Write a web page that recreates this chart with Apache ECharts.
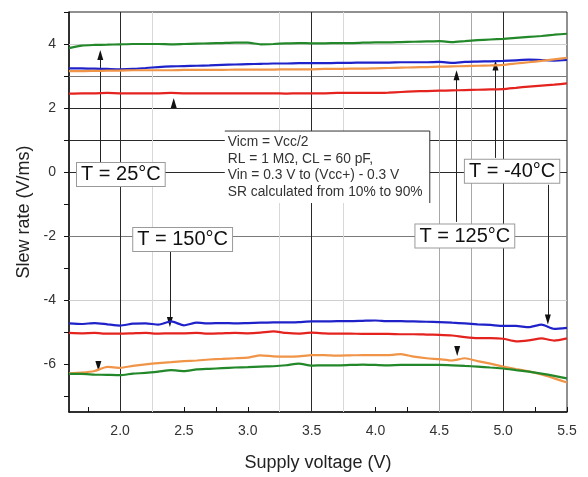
<!DOCTYPE html>
<html>
<head>
<meta charset="utf-8">
<script src="https://cdn.jsdelivr.net/npm/echarts@6/dist/echarts.min.js"></script>
<style>
  html, body { margin: 0; padding: 0; background: #fff; }
  #chart { width: 588px; height: 477px; }
</style>
</head>
<body>
<div id="chart"></div>
<script>
// Supply voltage sweep (V)
const supplyV = [1.6, 1.7, 1.8, 1.9, 2.0, 2.1, 2.2, 2.3, 2.4, 2.5,
                 2.6, 2.7, 2.8, 2.9, 3.0, 3.1, 3.2, 3.3, 3.4, 3.5,
                 3.6, 3.7, 3.8, 3.9, 4.0, 4.1, 4.2, 4.3, 4.4, 4.5,
                 4.6, 4.7, 4.8, 4.9, 5.0, 5.1, 5.2, 5.3, 5.4, 5.5];

// Rising-edge slew rate (V/ms)
const riseGreen = [3.87, 3.95, 3.97, 3.98, 3.99, 4.00, 4.00, 4.00, 3.99, 4.00,
                   4.01, 4.02, 4.03, 4.04, 4.04, 3.99, 4.00, 4.02, 4.03, 4.02,
                   4.02, 4.03, 4.03, 4.04, 4.05, 4.05, 4.06, 4.07, 4.08, 4.09,
                   4.06, 4.09, 4.12, 4.14, 4.16, 4.19, 4.22, 4.25, 4.29, 4.32];
const riseBlue = [3.24, 3.24, 3.23, 3.22, 3.21, 3.22, 3.25, 3.28, 3.30, 3.31,
                  3.32, 3.33, 3.35, 3.36, 3.37, 3.38, 3.39, 3.39, 3.40, 3.40,
                  3.40, 3.41, 3.41, 3.42, 3.42, 3.42, 3.43, 3.43, 3.43, 3.44,
                  3.41, 3.44, 3.45, 3.46, 3.47, 3.49, 3.51, 3.50, 3.48, 3.50];
const riseOrange = [3.15, 3.15, 3.16, 3.17, 3.17, 3.18, 3.18, 3.18, 3.18, 3.19,
                    3.19, 3.19, 3.19, 3.20, 3.20, 3.20, 3.20, 3.21, 3.21, 3.21,
                    3.22, 3.22, 3.23, 3.23, 3.24, 3.25, 3.26, 3.27, 3.28, 3.29,
                    3.30, 3.31, 3.32, 3.33, 3.35, 3.39, 3.43, 3.47, 3.52, 3.57];
const riseRed = [2.45, 2.46, 2.46, 2.47, 2.46, 2.46, 2.46, 2.46, 2.47, 2.46,
                 2.46, 2.46, 2.46, 2.46, 2.46, 2.46, 2.46, 2.45, 2.46, 2.46,
                 2.46, 2.47, 2.47, 2.47, 2.47, 2.48, 2.50, 2.52, 2.53, 2.54,
                 2.55, 2.56, 2.57, 2.58, 2.59, 2.63, 2.67, 2.70, 2.73, 2.77];

// Falling-edge slew rate (V/ms)
const fallBlue = [-4.73, -4.75, -4.72, -4.76, -4.80, -4.74, -4.73, -4.77, -4.67, -4.79,
                  -4.71, -4.73, -4.72, -4.73, -4.72, -4.71, -4.70, -4.70, -4.69, -4.67,
                  -4.67, -4.66, -4.66, -4.65, -4.64, -4.66, -4.66, -4.67, -4.68, -4.69,
                  -4.71, -4.73, -4.76, -4.78, -4.81, -4.81, -4.85, -4.77, -4.90, -4.87];
const fallRed = [-5.03, -5.04, -5.03, -5.05, -5.05, -5.04, -5.03, -5.05, -5.04, -5.04,
                 -5.03, -5.05, -5.04, -5.03, -5.04, -5.02, -4.98, -5.03, -5.05, -5.02,
                 -5.04, -5.05, -5.05, -5.06, -5.06, -5.06, -5.07, -5.07, -5.08, -5.09,
                 -5.11, -5.16, -5.19, -5.19, -5.21, -5.29, -5.26, -5.20, -5.27, -5.20];
const fallOrange = [-6.29, -6.27, -6.22, -6.09, -6.12, -6.06, -6.01, -5.97, -5.94, -5.91,
                    -5.89, -5.86, -5.84, -5.82, -5.80, -5.73, -5.76, -5.77, -5.76, -5.72,
                    -5.72, -5.74, -5.73, -5.72, -5.72, -5.72, -5.69, -5.77, -5.82, -5.85,
                    -5.89, -5.82, -5.91, -5.99, -6.08, -6.16, -6.23, -6.33, -6.45, -6.58];
const fallGreen = [-6.31, -6.31, -6.33, -6.34, -6.35, -6.30, -6.28, -6.24, -6.19, -6.22,
                   -6.17, -6.15, -6.13, -6.11, -6.10, -6.08, -6.07, -6.04, -5.99, -6.05,
                   -6.04, -6.04, -6.03, -6.02, -6.03, -6.04, -6.03, -6.03, -6.03, -6.03,
                   -6.04, -6.06, -6.08, -6.11, -6.14, -6.19, -6.24, -6.30, -6.37, -6.45];

// Axis ticks and labels
const xLabelValues = [2.0, 2.5, 3.0, 3.5, 4.0, 4.5, 5.0, 5.5];
const xTickValues = [1.75, 2.0, 2.25, 2.5, 2.75, 3.0, 3.25, 3.5, 3.75, 4.0, 4.25, 4.5, 4.75, 5.0, 5.25, 5.5];
const yLabelValues = [-6, -4, -2, 0, 2, 4];
const yTickValues = [-7, -6, -5, -4, -3, -2, -1, 0, 1, 2, 3, 4, 5];

// Reference lines across the plot
const hLinesDark = [2, 1, 0];
const hLinesMid = [3, -2];
const hLinesLight = [4, -4];
const vLinesDark = [2.0, 3.5, 5.0];
const vLinesMid = [4.5, 4.75];
const vLinesLight = [2.25, 3.25, 3.75];

// Temperature callouts: label, box centre (V, V/ms)
const calloutText = ['T = 25°C', 'T = 150°C', 'T = -40°C', 'T = 125°C'];
const calloutX = [2.006, 2.49, 5.07, 4.70];
const calloutY = [-0.08, -2.11, 0.02, -2.0];

// Leader lines: voltage, from value, to value
const leaderV = [1.845, 2.39, 4.635, 4.94, 5.35];
const leaderFrom = [0.31, -2.5, -1.56, 0.44, -0.4];
const leaderTo = [3.55, -4.55, 2.92, 3.22, -4.5];

// Arrow heads: voltage, value, pointing up (true) or down (false)
const arrowV = [1.845, 2.42, 4.635, 4.94, 2.39, 1.83, 4.64, 5.35];
const arrowY = [3.66, 2.16, 3.02, 3.33, -4.69, -6.06, -5.59, -4.61];
const arrowUp = [true, true, true, true, false, false, false, false];

const conditions = [
  'Vicm = Vcc/2',
  'RL = 1 MΩ, CL = 60 pF,',
  'Vin = 0.3 V to (Vcc+) - 0.3 V',
  'SR calculated from 10% to 90%'
];
const conditionsCorner = [2.82, 1.28]; // top-left corner (V, V/ms)

const FONT = '"Liberation Sans", Arial, Helvetica, sans-serif';

const zip = (ys) => supplyV.map((v, i) => [v, ys[i]]);

function curve(ys, color) {
  return {
    type: 'line',
    data: zip(ys),
    showSymbol: false,
    smooth: 0.2,
    silent: true,
    z: 5,
    lineStyle: { color: color, width: 2.2 },
    itemStyle: { color: color }
  };
}

const GREEN = '#22882a', BLUE = '#1f22c8', ORANGE = '#f09448', RED = '#e4231f';

const solid = (color) => ({ color: color, width: 1, type: 'solid' });

const refLines = [];
hLinesDark.forEach(y => refLines.push({ yAxis: y, lineStyle: solid('#2a2a2a') }));
hLinesMid.forEach(y => refLines.push({ yAxis: y, lineStyle: solid('#7a7a7a') }));
hLinesLight.forEach(y => refLines.push({ yAxis: y, lineStyle: solid('#cfcfcf') }));
vLinesDark.forEach(x => refLines.push({ xAxis: x, lineStyle: solid('#2a2a2a') }));
vLinesMid.forEach(x => refLines.push({ xAxis: x, lineStyle: solid('#a8a8a8') }));
vLinesLight.forEach(x => refLines.push({ xAxis: x, lineStyle: solid('#d8d8d8') }));
leaderV.forEach((v, i) => refLines.push([
  { coord: [v, leaderFrom[i]], lineStyle: solid('#222') },
  { coord: [v, leaderTo[i]] }
]));

const arrowMarks = arrowV.map((v, i) => ({
  coord: [v, arrowY[i]],
  symbol: 'triangle',
  symbolSize: [6, 10],
  symbolRotate: arrowUp[i] ? 0 : 180
}));

const chart = echarts.init(document.getElementById('chart'), null, { renderer: 'canvas' });

const option = {
  animation: false,
  backgroundColor: '#fff',
  grid: {
    left: 69, top: 12, right: 21, bottom: 65,
    show: true, borderColor: '#222', borderWidth: 1, backgroundColor: 'transparent'
  },
  xAxis: {
    type: 'value',
    min: 1.6, max: 5.5,
    name: 'Supply voltage (V)',
    nameLocation: 'middle',
    nameGap: 42,
    nameTextStyle: { fontFamily: FONT, fontSize: 18, color: '#222' },
    axisLine: { show: true, onZero: false, lineStyle: { color: '#111', width: 1.5 } },
    axisTick: { show: true, inside: true, length: 5, customValues: xTickValues, lineStyle: { color: '#111' } },
    axisLabel: {
      customValues: xLabelValues, margin: 12,
      fontFamily: FONT, fontSize: 14, color: '#333',
      formatter: v => v.toFixed(1)
    },
    splitLine: { show: false }
  },
  yAxis: {
    type: 'value',
    min: -7.5, max: 5,
    name: 'Slew rate (V/ms)',
    nameLocation: 'middle',
    nameGap: 34,
    nameRotate: 90,
    nameTextStyle: { fontFamily: FONT, fontSize: 18, color: '#222' },
    axisLine: { show: true, onZero: false, lineStyle: { color: '#111', width: 1.5 } },
    axisTick: { show: true, inside: false, length: 5, customValues: yTickValues, lineStyle: { color: '#111' } },
    axisLabel: {
      customValues: yLabelValues, margin: 13,
      fontFamily: FONT, fontSize: 14, color: '#333'
    },
    splitLine: { show: false }
  },
  series: [
    {
      type: 'line',
      data: [[1.6, -7.5]],
      showSymbol: false,
      silent: true,
      z: 1,
      lineStyle: { opacity: 0 },
      markLine: {
        silent: true,
        symbol: ['none', 'none'],
        label: { show: false },
        animation: false,
        lineStyle: { type: 'solid' },
        data: refLines
      }
    },
    curve(riseGreen, GREEN),
    curve(riseBlue, BLUE),
    curve(riseOrange, ORANGE),
    curve(riseRed, RED),
    curve(fallBlue, BLUE),
    curve(fallRed, RED),
    curve(fallOrange, ORANGE),
    curve(fallGreen, GREEN),
    {
      type: 'line',
      data: [[1.6, -7.5]],
      showSymbol: false,
      silent: true,
      z: 8,
      lineStyle: { opacity: 0 },
      markPoint: {
        silent: true,
        animation: false,
        label: { show: false },
        itemStyle: { color: '#111' },
        data: arrowMarks
      }
    }
  ]
};

chart.setOption(option);

// Callout boxes and the test-conditions note, placed through the axis scales
function placeAnnotations() {
  const toPx = p => chart.convertToPixel({ xAxisIndex: 0, yAxisIndex: 0 }, p);
  const elements = [];

  calloutText.forEach((t, i) => {
    const c = toPx([calloutX[i], calloutY[i]]);
    elements.push({
      type: 'text',
      x: c[0], y: c[1],
      z: 20,
      silent: true,
      style: {
        text: t,
        font: '20px ' + FONT,
        fill: '#111',
        align: 'center',
        verticalAlign: 'middle',
        backgroundColor: '#fff',
        borderColor: '#9a9a9a',
        borderWidth: 1,
        padding: [2, 4, 1, 4]
      }
    });
  });

  const tl = toPx(conditionsCorner);
  const boxW = 205, boxH = 72;
  elements.push({
    type: 'rect', z: 20, silent: true,
    shape: { x: tl[0], y: tl[1], width: boxW, height: boxH },
    style: { fill: '#fff' }
  });
  elements.push({
    type: 'polyline', z: 21, silent: true,
    shape: { points: [[tl[0], tl[1]], [tl[0] + boxW, tl[1]], [tl[0] + boxW, tl[1] + boxH]] },
    style: { stroke: '#333', lineWidth: 1, fill: null }
  });
  elements.push({
    type: 'text', z: 22, silent: true,
    x: tl[0] + 3, y: tl[1] + 3,
    style: {
      text: conditions.join('\n'),
      font: '13.8px ' + FONT,
      fill: '#333',
      lineHeight: 16.5,
      align: 'left',
      verticalAlign: 'top'
    }
  });

  chart.setOption({ graphic: { elements: elements } });
}

placeAnnotations();
</script>
</body>
</html>
